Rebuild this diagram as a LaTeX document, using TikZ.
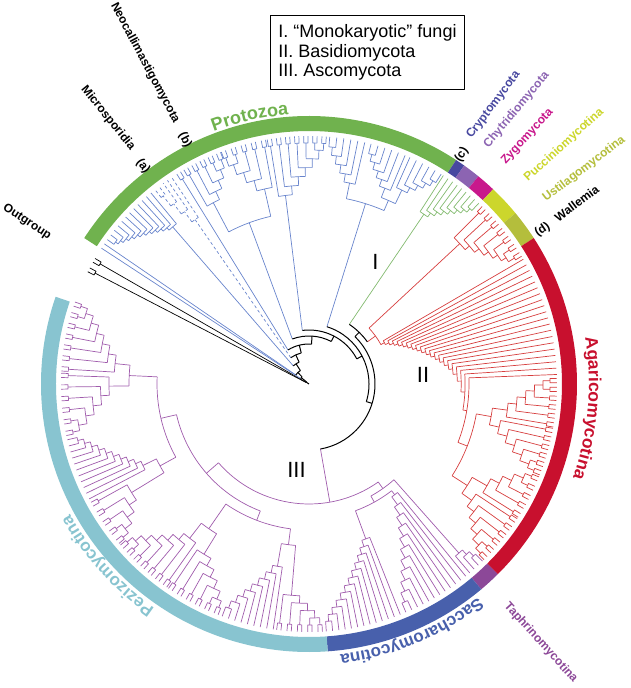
\documentclass[tikz,border=0pt]{standalone}
\usepackage{fontspec}
\setmainfont{Liberation Sans}
\usetikzlibrary{decorations.text}
\definecolor{ProtoGreen}{RGB}{112,178,78}
\definecolor{TreeBlue}{RGB}{104,132,204}
\definecolor{TreeGreen}{RGB}{130,186,110}
\definecolor{TreeRed}{RGB}{214,62,62}
\definecolor{TreePurple}{RGB}{160,92,172}
\definecolor{AgaRed}{RGB}{200,16,46}
\definecolor{PeziBlue}{RGB}{136,196,208}
\definecolor{SaccBlue}{RGB}{72,96,172}
\definecolor{TaphPurple}{RGB}{140,72,152}
\definecolor{CryptBlue}{RGB}{72,72,160}
\definecolor{ChytPurple}{RGB}{140,100,178}
\definecolor{ZygoPink}{RGB}{200,24,140}
\definecolor{PuccYellow}{RGB}{204,214,44}
\definecolor{UstiOlive}{RGB}{180,190,60}

\def\Rt{248}
\def\Rc{241}
\def\chw{0.5}

\newcommand{\tipunit}[3]{%
  \ifnum#3=1
    \draw (#1:#2pt) -- (#1:\Rt pt);
  \else
    \pgfmathsetmacro\tua{#1-\chw}\pgfmathsetmacro\tub{#1+\chw}%
    \draw (#1:#2pt) -- (#1:\Rc pt);
    \draw (\tua:\Rt pt) -- (\tua:\Rc pt) arc[start angle=\tua,end angle=\tub,radius=\Rc pt] -- (\tub:\Rt pt);
  \fi}

\newcommand{\cladestair}[9]{%
  \xdef\cbm{#1}\xdef\cbr{#2}%
  \foreach \k in {1,...,#5}{%
    \ifnum#5=1 \def\rk{#6}\def\uk{#3}\else
      \pgfmathsetmacro\rk{#6+(\k-1)*(#7-#6)/(#5-1)}%
      \pgfmathsetmacro\uk{#3+(\k-1)*(#4-#3)/(#5-1)}\fi
    \draw (\cbm:\rk pt) -- (\cbm:\cbr pt);
    \tipunit{\uk}{\rk}{#8}
    \draw (\cbm:\rk pt) arc[start angle=\cbm,end angle=\uk,radius=\rk pt];
    \pgfmathsetmacro\mk{(\cbm+\uk)/2}%
    \xdef\cbm{\mk}\xdef\cbr{\rk}%
  }%
  \draw (\cbm:#9pt) -- (\cbm:\cbr pt);
}

\newcommand{\cladecomb}[7]{%
  \pgfmathsetmacro\cbs{(#2-#1)/(#3-1)}%
  \pgfmathsetmacro\cba{#1+\cbs}%
  \pgfmathtruncatemacro\cbn{#3-1}%
  \ifnum#6=2
    \pgfmathsetmacro\tua{#1-\chw}\pgfmathsetmacro\tub{#1+\chw}%
    \draw (\tua:\Rt pt) -- (\tua:\Rc pt) arc[start angle=\tua,end angle=\tub,radius=\Rc pt] -- (\tub:\Rt pt);
    \cladestair{#1}{\Rc}{\cba}{#2}{\cbn}{#4}{#5}{2}{#7}%
  \else
    \cladestair{#1}{\Rt}{\cba}{#2}{\cbn}{#4}{#5}{1}{#7}%
  \fi}

\newcommand{\cladejoin}[4]{%
  \draw (#1:#3pt) arc[start angle=#1,end angle=#2,radius=#3pt];
  \pgfmathsetmacro\jm{(#1+#2)/2}%
  \draw (\jm:#4pt) -- (\jm:#3pt);
  \xdef\cbm{\jm}}

\newcommand{\cladejoinat}[5]{%
  \draw (#1:#3pt) arc[start angle=#1,end angle=#2,radius=#3pt];
  \draw (#5:#4pt) -- (#5:#3pt);
  \xdef\cbm{#5}}

\newcommand{\ringseg}[3]{%
  \fill[#3] (#1:253pt) arc[start angle=#1,end angle=#2,radius=253pt]
    -- (#2:268pt) arc[start angle=#2,end angle=#1,radius=268pt] -- cycle;}

\tikzset{
  tree/.style={line width=0.7pt},
  backbone/.style={line width=1pt, black},
  sublabel/.style={font=\fontsize{12}{14}\selectfont\bfseries, inner sep=0pt},
  numeral/.style={font=\fontsize{22}{24}\selectfont, inner sep=0pt},
  legendbox/.style={draw, line width=1.2pt, align=left, inner xsep=8pt, inner ysep=9pt,
    font=\fontsize{18}{19.5}\selectfont}
}

\begin{document}
\begin{tikzpicture}[x=1pt, y=1pt, line join=round]
\useasboundingbox (-309,-304) rectangle (322,384);

% coloured ring
\ringseg{56.7}{147}{ProtoGreen}
\ringseg{54.6}{56.7}{CryptBlue}
\ringseg{50.8}{54.6}{ChytPurple}
\ringseg{46.6}{50.8}{ZygoPink}
\ringseg{39.6}{46.6}{PuccYellow}
\ringseg{33}{39.6}{UstiOlive}
\ringseg{-45.2}{33}{AgaRed}
\ringseg{-50}{-45.2}{TaphPurple}
\ringseg{-86}{-50}{SaccBlue}
\ringseg{-199}{-86}{PeziBlue}

% outgroup
\begin{scope}[tree, black]
  \tipunit{150.1}{5}{2}
  \tipunit{152.6}{5}{2}
\end{scope}

% monokaryotic fungi
\begin{scope}[tree, TreeBlue]
  \draw (146.8:10pt) -- (146.8:\Rt pt);
  \draw (145.6:16pt) -- (145.6:\Rt pt);
  \cladecomb{144.4}{129.6}{12}{240}{208}{1}{24}
  \global\let\rAone\cbm
  \begin{scope}[dash pattern=on 3pt off 2.5pt]
    \cladecomb{128.4}{123.6}{5}{238}{200}{1}{32}
  \end{scope}
  \global\let\rB\cbm
  \tipunit{121.7}{40}{2}
  \cladecomb{111.4}{119.8}{5}{232}{205}{2}{172}
  \global\let\rDa\cbm
  \cladecomb{110.2}{100.6}{5}{232}{200}{2}{172}
  \global\let\rDb\cbm
  \cladejoin{\rDa}{\rDb}{172}{48}
  \global\let\rD\cbm
  \cladecomb{86.5}{99.2}{7}{234}{190}{2}{54}
  \global\let\rE\cbm
  \cladecomb{85.2}{77}{6}{238}{205}{1}{189}
  \global\let\rFa\cbm
  \cladecomb{57.8}{66}{6}{238}{215}{1}{200}
  \global\let\rFb\cbm
  \cladecomb{75.5}{67.2}{6}{238}{210}{1}{200}
  \global\let\rFc\cbm
  \cladejoin{\rFb}{\rFc}{200}{189}
  \global\let\rFbc\cbm
  \cladejoin{\rFa}{\rFbc}{189}{60}
  \global\let\rF\cbm
\end{scope}

\begin{scope}[tree, TreeGreen]
  \cladecomb{46.8}{57.2}{9}{238}{205}{1}{72}
  \global\let\rG\cbm
\end{scope}

% Basidiomycota
\begin{scope}[tree, TreeRed]
  \cladecomb{31.5}{45.2}{7}{234}{206}{2}{82}
  \global\let\rRone\cbm
  \cladecomb{0.8}{-9.5}{6}{234}{200}{2}{185}
  \global\let\rRa\cbm
  \cladecomb{-21}{-10.8}{6}{234}{195}{2}{185}
  \global\let\rRb\cbm
  \cladejoin{\rRa}{\rRb}{185}{170}
  \global\let\rRab\cbm
  \cladecomb{-22.5}{-32}{5}{234}{205}{2}{188}
  \global\let\rRcc\cbm
  \cladecomb{-44.6}{-33.4}{6}{234}{200}{2}{188}
  \global\let\rRdd\cbm
  \cladejoin{\rRcc}{\rRdd}{188}{170}
  \global\let\rRcd\cbm
  \cladejoin{\rRab}{\rRcd}{170}{170}
  \cladestair{\cbm}{170}{2.2}{30.2}{20}{160}{86}{1}{82}
  \global\let\rRtwo\cbm
  \cladejoin{\rRone}{\rRtwo}{82}{72}
  \global\let\rR\cbm
\end{scope}

% Ascomycota
\begin{scope}[tree, TreePurple]
  \cladecomb{-45.6}{-49.6}{4}{238}{226}{1}{128}
  \global\let\rT\cbm
  \cladecomb{-67}{-50.8}{12}{238}{140}{1}{135}
  \global\let\rSa\cbm
  \cladecomb{-86}{-68.4}{13}{238}{165}{1}{135}
  \global\let\rSb\cbm
  \cladejoin{\rSa}{\rSb}{135}{128}
  \global\let\rS\cbm
  \cladejoin{\rT}{\rS}{128}{120}
  \global\let\rTS\cbm
  \cladecomb{-87.4}{-97}{5}{234}{212}{2}{162}
  \global\let\rZa\cbm
  \cladecomb{-110.5}{-98.3}{9}{238}{185}{1}{162}
  \global\let\rZb\cbm
  \cladejoin{\rZa}{\rZb}{162}{146}
  \global\let\rZab\cbm
  \cladecomb{-112}{-124}{6}{234}{200}{2}{176}
  \global\let\rZc\cbm
  \cladecomb{-139}{-125.5}{7}{234}{195}{2}{176}
  \global\let\rZd\cbm
  \cladejoin{\rZc}{\rZd}{176}{146}
  \global\let\rZcd\cbm
  \cladejoin{\rZab}{\rZcd}{146}{136}
  \global\let\rZad\cbm
  \cladecomb{-140.5}{-151}{5}{234}{208}{2}{170}
  \global\let\rZe\cbm
  \cladecomb{-167}{-152.4}{11}{238}{185}{1}{170}
  \global\let\rZf\cbm
  \cladejoin{\rZe}{\rZf}{170}{152}
  \global\let\rZef\cbm
  \cladecomb{-168.5}{-182}{6}{234}{200}{2}{180}
  \global\let\rZg\cbm
  \cladecomb{-198.8}{-183.5}{7}{234}{195}{2}{180}
  \global\let\rZh\cbm
  \cladejoin{\rZg}{\rZh}{180}{152}
  \global\let\rZgh\cbm
  \cladejoin{\rZef}{\rZgh}{152}{136}
  \global\let\rZeh\cbm
  \cladejoin{\rZad}{\rZeh}{136}{120}
  \global\let\rZ\cbm
  \cladejoinat{\rZ}{\rTS}{120}{66}{-80}
  \global\let\rP\cbm
\end{scope}

% backbone
\begin{scope}[backbone]
  \cladejoin{\rG}{\rR}{72}{66}
  \cladejoin{\cbm}{\rP}{66}{60}
  \cladejoin{\rF}{\cbm}{60}{54}
  \cladejoin{\rE}{\cbm}{54}{48}
  \cladejoin{\rD}{\cbm}{48}{40}
  \cladejoin{121.7}{\cbm}{40}{32}
  \cladejoin{\rB}{\cbm}{32}{24}
  \cladejoin{\rAone}{\cbm}{24}{16}
  \cladejoin{145.6}{\cbm}{16}{10}
  \cladejoin{146.8}{\cbm}{10}{3}
  \global\let\rL\cbm
  \cladejoin{150.1}{152.6}{5}{3}
  \cladejoin{\rL}{\cbm}{3}{0}
\end{scope}

% curved clade names
\path[decorate, decoration={text along path, text align=center,
  text={|\fontsize{18}{20}\selectfont\bfseries\color{ProtoGreen}|Protozoa}}]
  (125:270pt) arc[start angle=125,end angle=80,radius=270pt];
\path[decorate, decoration={text along path, text align=center,
  text={|\fontsize{17.5}{20}\selectfont\bfseries\color{AgaRed}|Agaricomycotina}}]
  (20:280pt) arc[start angle=20,end angle=-30,radius=280pt];
\path[decorate, decoration={text along path, text align=center,
  text={|\fontsize{17}{20}\selectfont\bfseries\color{SaccBlue}|Saccharomycotina}}]
  (-45:272pt) arc[start angle=-45,end angle=-90,radius=272pt];
\path[decorate, decoration={text along path, text align=center,
  text={|\fontsize{17}{20}\selectfont\bfseries\color{PeziBlue}|Pezizomycotina}}]
  (-113:272pt) arc[start angle=-113,end angle=-163,radius=272pt];

% small labels
\node[sublabel, rotate=-33] (outgroup) at (-282,162) {Outgroup};
\node[sublabel, rotate=-51] (micro) at (-201,266) {Microsporidia};
\node[sublabel, rotate=-62] (neocalli) at (-164,321) {Neocallimastigomycota};
\node[sublabel, rotate=-53] (laba) at (-166,218) {(a)};
\node[sublabel, rotate=-63] (labb) at (-124,244) {(b)};
\node[sublabel, rotate=53, CryptBlue] (crypto) at (184.5,279) {Cryptomycota};
\node[sublabel, rotate=50, ChytPurple] (chytrid) at (207.7,274) {Chytridiomycota};
\node[sublabel, rotate=47.6, ZygoPink] (zygo) at (218.5,247.3) {Zygomycota};
\node[sublabel, rotate=42.5, PuccYellow] (puccin) at (255,239) {Pucciniomycotina};
\node[sublabel, rotate=37.4, UstiOlive] (ustilago) at (275,215) {Ustilagomycotina};
\node[sublabel, rotate=37] (wallemia) at (267.7,180.7) {Wallemia};
\node[sublabel, rotate=57] (labc) at (152.7,229) {(c)};
\node[sublabel, rotate=34] (labd) at (233.5,154) {(d)};
\node[sublabel, rotate=-48, TaphPurple] (taphrino) at (231.8,-258.5) {Taphrinomycotina};

% group numerals and key
\node[numeral] (numI) at (66.5,122.5) {I};
\node[numeral] (numII) at (114,9) {II};
\node[numeral] (numIII) at (-12.5,-85.5) {III};
\node[legendbox] (legend) at (58.5,331.5) {I. “Monokaryotic” fungi\\II. Basidiomycota\\III. Ascomycota};
\end{tikzpicture}
\end{document}
